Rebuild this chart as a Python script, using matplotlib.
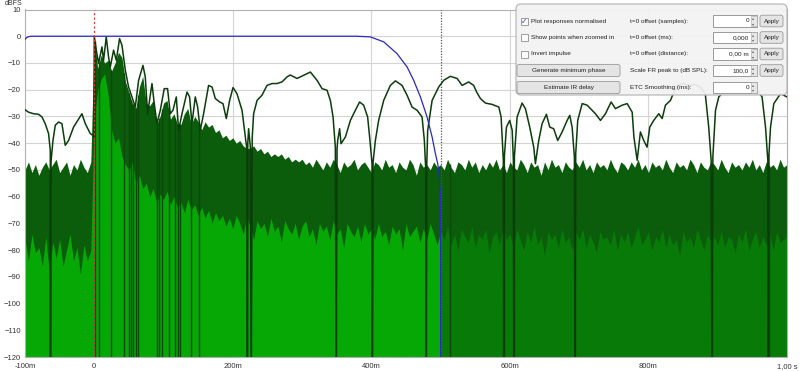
import numpy as np
import matplotlib.pyplot as plt
from matplotlib.patches import FancyBboxPatch, Rectangle

plt.rcParams['font.family'] = ['Liberation Sans', 'DejaVu Sans']

# ノイズ部分（5ms刻み、-100ms〜1000ms）の上端と下端 [dBFS]
noise_t = np.arange(-100, 1001, 5)
noise_top = [
    -50, -47, -51, -48, -52, -49, -47, -50, -48, -46, -51, -49, -47, -52, -48, -50, -46, -49, -51, -47,
    -1, -12, -7, -10, -9, -13, -10, -6, -8, -17, -21, -25, -27, -19, -15, -25, -26, -24, -33, -30,
    -25, -24, -31, -29, -33, -33, -29, -27, -33, -30, -32, -35, -32, -34, -33, -36, -35, -38, -37, -39,
    -38, -40, -39, -41, -42, -42, -41, -43, -42, -44, -43, -45, -44, -45, -44, -46, -45, -47, -46, -47,
    -46, -48, -47, -49, -46, -48, -50, -47, -49, -46, -48, -51, -47, -49, -48, -46, -50, -48, -47, -49,
    -51, -47, -48, -50, -46, -49, -48, -51, -47, -49, -50, -46, -48, -52, -47, -49, -48, -50, -47, -49,
    -48, -50, -46, -49, -51, -47, -48, -50, -46, -49, -47, -51, -48, -50, -47, -49, -46, -50, -48, -51,
    -47, -49, -50, -46, -48, -51, -47, -49, -48, -52, -47, -50, -46, -49, -48, -51, -47, -49, -50, -47,
    -49, -46, -50, -48, -51, -47, -49, -48, -50, -46, -49, -51, -47, -48, -50, -47, -49, -46, -50, -48,
    -51, -47, -49, -48, -50, -46, -49, -51, -47, -49, -48, -50, -46, -48, -51, -47, -49, -50, -47, -48,
    -50, -46, -49, -51, -47, -49, -48, -50, -47, -49, -46, -50, -48, -51, -47, -49, -48, -50, -46, -49,
    -48]
noise_low = [
    -76, -84, -74, -81, -79, -86, -75, -88, -77, -83, -76, -86, -80, -74, -84, -79, -89, -78, -84, -80,
    -30, -20, -16, -14, -22, -35, -40, -38, -45, -48, -50, -47, -55, -52, -57, -55, -60, -57, -62, -59,
    -61, -58, -63, -60, -64, -62, -66, -61, -65, -63, -67, -64, -68, -65, -70, -66, -69, -67, -71, -68,
    -72, -67, -70, -74, -68, -71, -76, -69, -72, -70, -75, -68, -73, -71, -77, -69, -72, -74, -70, -76,
    -71, -69, -75, -72, -78, -70, -73, -71, -76, -69, -74, -72, -79, -70, -73, -75, -71, -77, -70, -74,
    -72, -76, -70, -75, -73, -78, -71, -74, -72, -80, -70, -75, -73, -71, -77, -72, -76, -70, -74, -78,
    -73, -76, -71, -78, -74, -80, -72, -75, -77, -71, -79, -74, -76, -72, -81, -75, -73, -78, -71, -76,
    -74, -79, -72, -76, -80, -73, -77, -71, -78, -75, -82, -73, -76, -74, -79, -72, -77, -75, -80, -73,
    -76, -72, -79, -74, -77, -81, -73, -76, -75, -78, -72, -80, -74, -77, -73, -79, -75, -71, -78, -76,
    -73, -80, -75, -77, -72, -79, -74, -78, -76, -82, -73, -77, -75, -79, -72, -76, -80, -74, -77, -75,
    -78, -73, -79, -75, -76, -81, -74, -77, -72, -80, -76, -73, -79, -75, -78, -74, -80, -73, -77, -76,
    -75]

# ゼロクロス（-120dBまで落ちる縦線）の位置 [ms]
zero_cross_t = [-63.5, 0.4, 7.2, 24.5, 43.3, 50.1, 53.4, 56.3, 60.2, 63.1, 91, 93.9, 97.8,
                107.3, 117, 120.6, 124.2, 139.1, 151.2, 220.5, 226.7, 349.5, 401.4, 479,
                513, 591, 605.5, 694.2, 892.4, 973.3]

# ETC曲線
etc_t = [-100, -95, -87.6, -80.4, -75.5, -70.8, -66, -63.5, -63.2, -62.5, -59.6, -56.3, -51.5,
         -46.7, -41.9, -37.1, -29.9, -17.8, -13, -5.8, -1.9, -0.5, 0,
         2.9, 6.2, 11.1, 13.4, 17.3, 20.6, 23.1, 27.9, 31.8, 36.5, 40, 44.8, 49.5, 54.4, 59.2,
         64, 70.3, 73.6, 77, 83.3, 86.6, 90.5, 95.3, 101, 105.8, 109.7, 113.6, 118.4, 121.7,
         126.6, 133.9, 137.6, 141, 145.8, 149.2, 153, 157.8, 165, 170, 174.7, 181, 185.8,
         190.6, 195.4, 200.3, 206, 213.3, 218, 220.5, 221, 221.6, 222.8, 225.3, 226.5, 228,
         230, 235, 242, 249.4, 256.6, 263.8, 271, 278.3, 283, 292.7, 302.2, 312, 321.6, 328.8,
         336, 340.8, 344.7, 348, 349, 350.5, 351.4, 354.2, 356.2, 362.5, 369.7, 376.9, 383,
         388.9, 394.6, 397.5, 401, 401.4, 402.5, 405.8, 410.5, 417.8, 427.4, 434.7, 444.3,
         451.6, 458.8, 466, 473.2, 476.5, 478.5, 479, 480, 481.3, 487.7, 497.2, 504.4, 514,
         523.8, 531, 540.5, 547.7, 552, 557.4, 564.6, 574.3, 584, 587.3, 590.5, 591, 592, 595,
         599.7, 603.3, 605, 605.5, 606.5, 610.4, 617.6, 622.4, 628.6, 634.4, 636.8, 641.6,
         646.5, 652.7, 657.5, 663.2, 669, 675.4, 682.6, 686.4, 689.8, 693.1, 694, 695, 697.9,
         704.3, 711.5, 718.7, 723.5, 730.7, 737.9, 746.1, 752.3, 762, 769.2, 776.5, 779,
         783.7, 788.4, 793.2, 798, 801.9, 807.6, 814.9, 819.8, 824.5, 831.8, 836.6, 843, 850,
         858, 866, 875, 882, 887, 890.5, 891.5, 893, 896.8, 901.5, 910, 920, 930, 940, 950,
         958, 964, 969, 972.3, 973, 974, 976.2, 981, 990.6, 1000]
etc_db = [-27.5, -28.4, -29, -29.2, -30.2, -32.7, -36.4, -42.7, -120, -47, -39, -33.3, -32.1,
          -32.7, -40.8, -39, -34, -29, -32.7, -36.4, -37.1, -38, 0,
          -5.2, -10.2, -4, -9, -0.3, -7.7, -11.5, -5.2, -9, -0.9, -3.4, -12.7, -19, -22.7, -26.5,
          -16.5, -10.9, -15.2, -29, -17.7, -25.2, -32.7, -27.7, -19.6, -19.6, -29, -27.7, -22.7, -35.2,
          -29, -20.9, -22.7, -32.7, -22.7, -26.5, -35.2, -29, -18.4, -19, -23.3, -24.6, -25.2,
          -30.8, -24, -19.2, -21.5, -27.7, -37.7, -42.7, -120, -40, -34.6, -41.5, -120, -38,
          -29, -24, -22.1, -18.4, -17.7, -17.7, -17.1, -15.2, -14.5, -15.8, -14.6, -13.4, -16.5, -19.6,
          -20.2, -24, -30.2, -41.5, -120, -42, -39, -34.6, -40.2, -37.7, -31.5, -27.7, -24.6,
          -25.8, -30.2, -37.7, -47.7, -120, -47, -39, -31.5, -24, -18.4, -16.7, -18.4,
          -22.1, -26.5, -27.7, -30.2, -39, -50, -120, -48, -35.2, -24, -19, -16.5, -15,
          -15.8, -18.4, -17.1, -18.4, -20.9, -23.3, -25, -25.5, -26.5, -30.2, -46.4, -120, -45, -34,
          -31.5, -35.2, -46.4, -120, -45, -30.2, -25, -27.1, -34, -41.5, -47.7, -39,
          -32.7, -29.2, -34, -34.6, -39, -35.8, -31.5, -29.6, -34, -45.2, -120, -44, -31.5,
          -25.2, -25.8, -27.7, -29, -31.5, -29, -24.6, -27.1, -25.8, -25.2, -28.4, -37.7,
          -46.4, -35.8, -39, -41.5, -34, -31.5, -29, -30.8, -25.8, -24, -20.9, -18.5, -17.6,
          -18.5, -18, -19, -21.5, -34, -46.4, -120, -45, -27.7, -22.7, -20.5, -19.5, -20, -19, -19.5,
          -20.5, -22.7, -34, -46.4, -120, -44, -34, -25.2, -21.5, -22.7]

# 窓関数（青線）
win_t = [-100, -98, -95, -92, 379, 398.6, 417.8, 437, 451.6, 461.1, 470.8, 480.4, 487.7,
         492.4, 495.8, 497.5, 500, 500]
win_db = [-1.2, -0.6, -0.2, 0, 0, -0.25, -2.1, -6.5, -11.5, -16.5, -22.7, -30.2, -37.7,
          -43.9, -47.7, -51, -60, -120]

x_ticks = [-100, 0, 200, 400, 600, 800, 1000]
x_tick_labels = ['-100m', '0', '200m', '400m', '600m', '800m', '1,00 s']
y_ticks = list(range(-120, 11, 10))

# 右上パネルの文字
check_labels = ['Plot responses normalised', 'Show points when zoomed in', 'Invert impulse']
check_state = [True, False, False]
button_labels = ['Generate minimum phase', 'Estimate IR delay']
field_labels = ['t=0 offset (samples):', 't=0 offset (ms):', 't=0 offset (distance):',
                'Scale FR peak to (dB SPL):', 'ETC Smoothing (ms):']
field_values = ['0', '0,000', '0,00 m', '100,0', '0']
field_apply = [True, True, True, True, False]


fig = plt.figure(figsize=(8, 3.71), dpi=100)
fig.patch.set_facecolor('white')
ax = fig.add_axes([25 / 800, 14 / 371, 762 / 800, 347.5 / 371])

noise_t = np.asarray(noise_t)
noise_low = np.asarray(noise_low)
inside = noise_t <= 500   # 窓の内側
outside = noise_t >= 500  # 窓の外側
ax.fill_between(noise_t, -120, noise_top, color='#0B5C0B', lw=0, zorder=1)
ax.fill_between(noise_t[inside], -120, noise_low[inside], color='#05A805', lw=0, zorder=2)
ax.fill_between(noise_t[outside], -120, noise_low[outside], color='#077A07', lw=0, zorder=2)
ax.vlines(zero_cross_t, -120, np.interp(zero_cross_t, noise_t, noise_top),
          color='#0C470C', lw=1.0, zorder=3)

ax.plot(etc_t, etc_db, color='#0B3D0B', lw=1.1, zorder=4)
ax.plot(win_t, win_db, color='#2727C8', lw=0.9, zorder=5)
ax.axvline(0, color='#E03535', lw=0.8, ls=(0, (2, 2)), zorder=6)
ax.axvline(500, color='#555555', lw=0.9, ls=(0, (1, 1.2)), zorder=6)

ax.set_xlim(-100, 1000)
ax.set_ylim(-120, 10)
ax.set_xticks(x_ticks)
ax.set_xticklabels(x_tick_labels)
ax.set_yticks(y_ticks)
for yv in y_ticks:
    ax.axhline(yv, color='#D4D4D4', lw=0.8, zorder=0)
for xv in [200, 400, 600, 800]:
    ax.axvline(xv, color='#D4D4D4', lw=0.8, zorder=0)
ax.tick_params(length=0, labelsize=5.5, colors='#333333')
ax.tick_params(axis='x', pad=4)
ax.tick_params(axis='y', pad=3)
for s in ax.spines.values():
    s.set_color('#B0B0B0')
    s.set_linewidth(0.8)

# パネル（ピクセル座標で描く）
ov = fig.add_axes([0, 0, 1, 1], zorder=10)
ov.set_xlim(0, 800)
ov.set_ylim(371, 0)
ov.axis('off')
ov.patch.set_alpha(0)
ov.text(5, 3.5, 'dBFS', fontsize=5, color='#333333', va='center')

ov.add_patch(FancyBboxPatch((516, 4), 271, 91, boxstyle='round,pad=0,rounding_size=5',
                            fc='#F3F3F3', ec='#B5B5B5', lw=0.9, alpha=0.93))
rows_y = [21, 37.5, 54, 70.5, 87.5]
fs = 4.6
for i, lab in enumerate(check_labels):
    ov.add_patch(Rectangle((520.5, rows_y[i] - 3.5), 7, 7, fc='#FAFAFA', ec='#909090', lw=0.6))
    if check_state[i]:
        ov.text(524, rows_y[i] + 0.3, '\u2713', fontsize=5.5, color='#3050B0',
                ha='center', va='center', family='DejaVu Sans')
    ov.text(531, rows_y[i], lab, fontsize=fs, color='#202020', va='center')
for j, lab in enumerate(button_labels):
    y = rows_y[3 + j]
    ov.add_patch(FancyBboxPatch((517, y - 6), 103, 12, boxstyle='round,pad=0,rounding_size=2',
                                fc='#E4E4E4', ec='#9A9A9A', lw=0.6))
    ov.text(568.5, y, lab, fontsize=fs, color='#202020', ha='center', va='center')
for k, lab in enumerate(field_labels):
    y = rows_y[k]
    ov.text(630, y, lab, fontsize=fs, color='#202020', va='center')
    ov.add_patch(Rectangle((713, y - 5.8), 44, 11.6, fc='white', ec='#8A8A8A', lw=0.6))
    ov.add_patch(Rectangle((750.5, y - 5.3), 6, 10.6, fc='#E6E6E6', ec='#A0A0A0', lw=0.4))
    ov.text(753.5, y - 2.6, '\u25B4', fontsize=3, color='#606060', ha='center', va='center',
            family='DejaVu Sans')
    ov.text(753.5, y + 2.6, '\u25BE', fontsize=3, color='#606060', ha='center', va='center',
            family='DejaVu Sans')
    ov.text(749, y, field_values[k], fontsize=fs, color='#202020', ha='right', va='center')
    if field_apply[k]:
        ov.add_patch(FancyBboxPatch((760, y - 5.8), 23, 11.6,
                                    boxstyle='round,pad=0,rounding_size=2',
                                    fc='#E4E4E4', ec='#9A9A9A', lw=0.6))
        ov.text(771.5, y, 'Apply', fontsize=fs, color='#202020', ha='center', va='center')

fig.savefig('out.png', dpi=100)
